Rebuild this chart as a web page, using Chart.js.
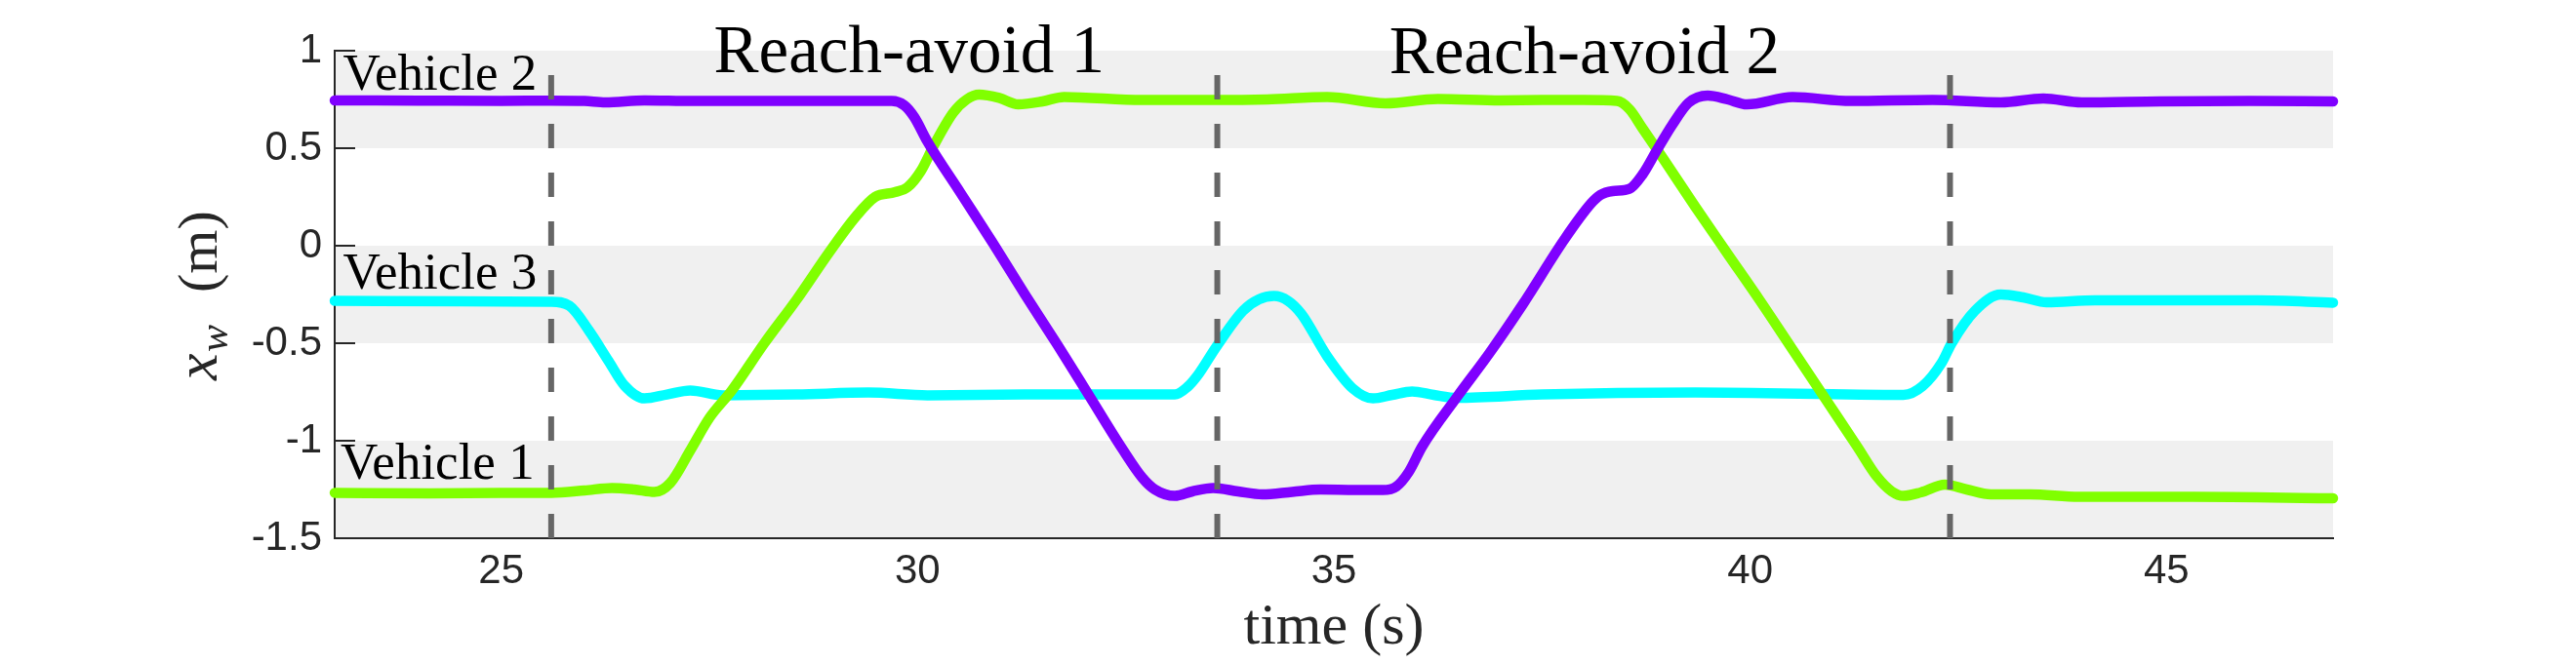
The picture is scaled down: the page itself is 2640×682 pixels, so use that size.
<!DOCTYPE html>
<html>
<head>
<meta charset="utf-8">
<title>Vehicle lateral positions</title>
<script src="https://cdn.jsdelivr.net/npm/chart.js@4.4.1/dist/chart.umd.min.js"></script>
<style>
  html, body { margin: 0; padding: 0; background: #ffffff; }
  #wrap { width: 2640px; height: 682px; }
</style>
</head>
<body>
<div id="wrap"><canvas id="xwChart" width="2640" height="682"></canvas></div>
<script>
// values (time in s, x_w in m)
const v1Time = [23, 24.14, 25.0, 25.6, 26.0, 26.33, 26.6, 26.84, 27.03, 27.27, 27.5, 27.77, 28.16, 28.55, 28.94, 29.26, 29.49, 29.73, 29.88, 30.04, 30.2, 30.43, 30.59, 30.74, 30.98, 31.21, 31.5, 31.76, 32.7, 33.55, 34.2, 34.92, 35.62, 36.25, 37.0, 37.5, 38.0, 38.4, 38.55, 38.71, 38.95, 39.34, 39.73, 40.12, 40.51, 40.9, 41.29, 41.52, 41.7, 41.84, 42.05, 42.34, 42.6, 42.89, 43.36, 43.95, 45.31, 47];
const v1Pos = [-1.267, -1.27, -1.268, -1.267, -1.255, -1.242, -1.25, -1.263, -1.217, -1.05, -0.883, -0.742, -0.5, -0.275, -0.033, 0.15, 0.25, 0.275, 0.30, 0.383, 0.517, 0.683, 0.75, 0.775, 0.758, 0.725, 0.74, 0.763, 0.747, 0.747, 0.75, 0.762, 0.73, 0.753, 0.745, 0.747, 0.747, 0.742, 0.70, 0.60, 0.45, 0.2, -0.042, -0.283, -0.533, -0.783, -1.033, -1.183, -1.26, -1.283, -1.265, -1.225, -1.25, -1.275, -1.275, -1.288, -1.288, -1.295];

const v2Time = [23, 24, 25, 25.6, 26.0, 26.25, 26.72, 27.3, 27.89, 28.8, 29.69, 29.84, 29.96, 30.12, 30.51, 30.9, 31.29, 31.68, 32.07, 32.46, 32.7, 32.85, 33.09, 33.3, 33.55, 33.85, 34.14, 34.5, 34.84, 35.2, 35.59, 35.75, 35.9, 36.06, 36.48, 36.87, 37.27, 37.77, 38.09, 38.2, 38.35, 38.55, 38.71, 38.87, 39.06, 39.26, 39.49, 39.73, 39.96, 40.51, 41.21, 42.19, 43.01, 43.52, 43.98, 44.92, 46.0, 47];
const v2Pos = [0.745, 0.744, 0.743, 0.744, 0.742, 0.735, 0.745, 0.742, 0.743, 0.743, 0.742, 0.72, 0.66, 0.533, 0.275, 0.017, -0.25, -0.508, -0.775, -1.042, -1.19, -1.25, -1.283, -1.26, -1.242, -1.26, -1.275, -1.262, -1.25, -1.252, -1.253, -1.235, -1.16, -1.03, -0.775, -0.55, -0.30, 0.033, 0.217, 0.26, 0.28, 0.292, 0.367, 0.483, 0.617, 0.733, 0.77, 0.75, 0.725, 0.762, 0.742, 0.747, 0.735, 0.755, 0.735, 0.74, 0.742, 0.74];

const v3Time = [23, 24.5, 25.6, 25.82, 26.05, 26.29, 26.48, 26.72, 26.99, 27.27, 27.66, 28.55, 29.41, 30.12, 31.29, 32.7, 33.09, 33.24, 33.36, 33.59, 33.91, 34.1, 34.28, 34.45, 34.61, 34.92, 35.23, 35.47, 35.7, 35.94, 36.2, 36.48, 37.5, 39.34, 41.84, 42.07, 42.3, 42.42, 42.7, 43.01, 43.28, 43.56, 44.14, 46.09, 47];
const v3Pos = [-0.283, -0.285, -0.287, -0.308, -0.433, -0.592, -0.717, -0.783, -0.763, -0.742, -0.767, -0.763, -0.753, -0.767, -0.763, -0.763, -0.763, -0.725, -0.667, -0.517, -0.333, -0.275, -0.258, -0.283, -0.35, -0.567, -0.733, -0.783, -0.765, -0.747, -0.765, -0.78, -0.763, -0.753, -0.765, -0.72, -0.6, -0.5, -0.333, -0.25, -0.265, -0.29, -0.28, -0.28, -0.292];

const eventTimes = [25.6, 33.6, 42.4];
const xTicks = [25, 30, 35, 40, 45];
const yTicks = [-1.5, -1, -0.5, 0, 0.5, 1];
const bandRanges = [[0.5, 1], [-0.5, 0], [-1.5, -1]];
const vehicleNames = ['Vehicle 1', 'Vehicle 2', 'Vehicle 3'];
const phaseNames = ['Reach-avoid 1', 'Reach-avoid 2'];

const AXIS_COLOR = '#262626';
const SERIF = '"Liberation Serif", "Times New Roman", serif';
const SANS = '"Liberation Sans", Arial, sans-serif';

Chart.defaults.font.family = SANS;
Chart.defaults.font.size = 42;
Chart.defaults.color = AXIS_COLOR;

function toPoints(ts, vs) {
    return ts.map(function (t, i) { return { x: t, y: vs[i] }; });
}

// text placement (anchor in axis units)
const noteLayout = [
    { text: vehicleNames[1], x: 23.1, y: 0.80, align: 'left', size: 53 },
    { text: vehicleNames[2], x: 23.1, y: -0.22, align: 'left', size: 53 },
    { text: vehicleNames[0], x: 23.07, y: -1.197, align: 'left', size: 53 },
    { text: phaseNames[0], x: 29.9, y: 0.89, align: 'center', size: 69 },
    { text: phaseNames[1], x: 38.01, y: 0.885, align: 'center', size: 69 }
];

const decorPlugin = {
    id: 'decor',
    beforeDraw: function (chart) {
        const ctx = chart.ctx, area = chart.chartArea, ys = chart.scales.y;
        ctx.save();
        ctx.fillStyle = '#f0f0f0';
        bandRanges.forEach(function (b) {
            const top = ys.getPixelForValue(b[1]);
            const bot = ys.getPixelForValue(b[0]);
            ctx.fillRect(area.left, top, area.right - area.left, bot - top);
        });
        ctx.restore();
    },
    afterDatasetsDraw: function (chart) {
        const ctx = chart.ctx, xs = chart.scales.x, ys = chart.scales.y;
        ctx.save();
        ctx.strokeStyle = '#666666';
        ctx.lineWidth = 6;
        ctx.setLineDash([25, 25]);
        eventTimes.forEach(function (t) {
            const px = xs.getPixelForValue(t);
            ctx.beginPath();
            ctx.moveTo(px, ys.getPixelForValue(-1.5));
            ctx.lineTo(px, ys.getPixelForValue(1));
            ctx.stroke();
        });
        ctx.restore();
    },
    afterDraw: function (chart) {
        const ctx = chart.ctx, xs = chart.scales.x, ys = chart.scales.y, area = chart.chartArea;
        ctx.save();

        // inward y ticks
        ctx.strokeStyle = AXIS_COLOR;
        ctx.lineWidth = 2;
        yTicks.forEach(function (v) {
            const py = Math.round(ys.getPixelForValue(v));
            ctx.beginPath();
            ctx.moveTo(area.left, py);
            ctx.lineTo(area.left + 21, py);
            ctx.stroke();
        });

        // annotations
        ctx.fillStyle = '#000000';
        ctx.textBaseline = 'alphabetic';
        noteLayout.forEach(function (n) {
            ctx.font = n.size + 'px ' + SERIF;
            ctx.textAlign = n.align;
            ctx.fillText(n.text, xs.getPixelForValue(n.x), ys.getPixelForValue(n.y));
        });

        // x axis title
        ctx.fillStyle = '#262626';
        ctx.font = '60px ' + SERIF;
        ctx.textAlign = 'center';
        ctx.fillText('time (s)', (area.left + area.right) / 2, 660);

        // y axis title: x_w (m)
        ctx.translate(222, 390);
        ctx.rotate(-Math.PI / 2);
        ctx.textAlign = 'left';
        ctx.font = 'italic 62px ' + SERIF;
        ctx.fillText('x', 0, 0);
        ctx.font = 'italic 42px ' + SERIF;
        ctx.fillText('w', 29, 11);
        ctx.font = '58px ' + SERIF;
        ctx.fillText('(m)', 90, 0);
        ctx.restore();
    }
};

const ctx = document.getElementById('xwChart').getContext('2d');
const xwChart = new Chart(ctx, {
    type: 'line',
    data: {
        datasets: [{
            label: vehicleNames[1],
            data: toPoints(v2Time, v2Pos),
            borderColor: '#7f00ff',
            borderWidth: 10.5
        }, {
            label: vehicleNames[0],
            data: toPoints(v1Time, v1Pos),
            borderColor: '#80ff00',
            borderWidth: 10.5
        }, {
            label: vehicleNames[2],
            data: toPoints(v3Time, v3Pos),
            borderColor: '#00ffff',
            borderWidth: 10.5
        }]
    },
    options: {
        responsive: false,
        animation: false,
        devicePixelRatio: 1,
        layout: {
            padding: { top: 52, right: 249, bottom: 0, left: 0 }
        },
        datasets: {
            line: {
                pointRadius: 0,
                fill: false,
                cubicInterpolationMode: 'monotone',
                borderCapStyle: 'round',
                borderJoinStyle: 'round',
                clip: false
            }
        },
        plugins: {
            legend: { display: false },
            tooltip: { enabled: false }
        },
        scales: {
            x: {
                type: 'linear',
                min: 23,
                max: 47,
                afterBuildTicks: function (scale) {
                    scale.ticks = xTicks.map(function (v) { return { value: v }; });
                },
                afterFit: function (scale) { scale.height = 130; },
                grid: { display: false, drawTicks: false },
                border: { display: true, color: AXIS_COLOR, width: 2 },
                ticks: {
                    autoSkip: false,
                    maxRotation: 0,
                    padding: 9,
                    color: AXIS_COLOR,
                    font: { family: SANS, size: 42 }
                }
            },
            y: {
                type: 'linear',
                min: -1.5,
                max: 1,
                afterBuildTicks: function (scale) {
                    scale.ticks = yTicks.map(function (v) { return { value: v }; });
                },
                afterFit: function (scale) { scale.width = 343; },
                grid: { display: false, drawTicks: false },
                border: { display: true, color: AXIS_COLOR, width: 2 },
                ticks: {
                    padding: 13,
                    color: AXIS_COLOR,
                    font: { family: SANS, size: 42 },
                    callback: function (value) { return String(value); }
                }
            }
        }
    },
    plugins: [decorPlugin]
});
</script>
</body>
</html>
